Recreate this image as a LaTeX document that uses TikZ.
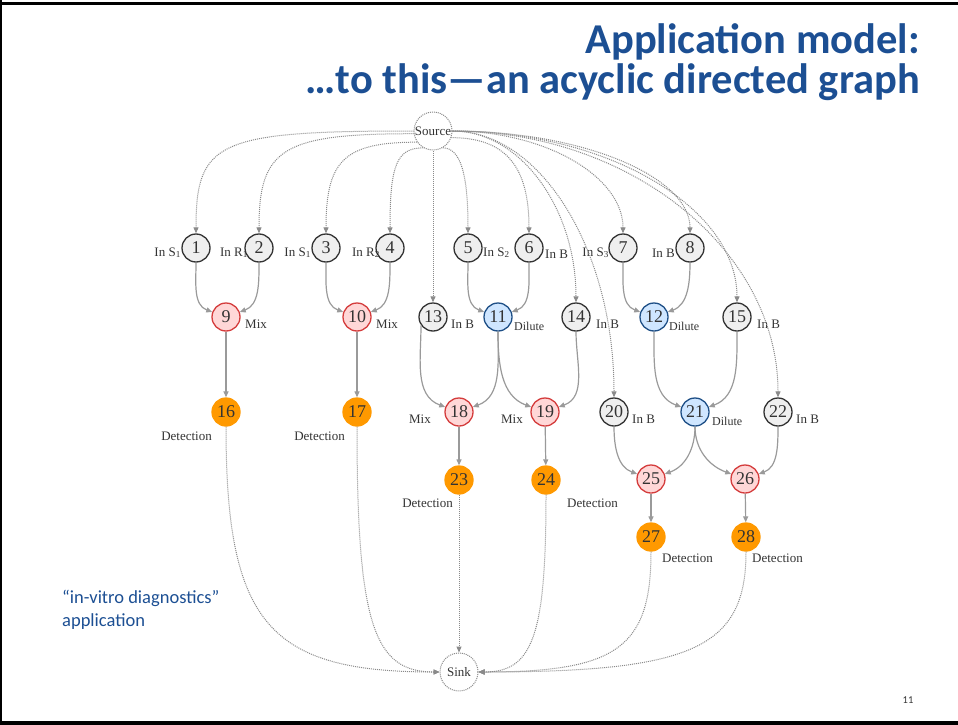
\documentclass[tikz,border=0pt]{standalone}
\usepackage{fontspec}
\setmainfont{Liberation Serif}
\newfontfamily\calfont{Carlito}
\usetikzlibrary{arrows.meta,calc}

\definecolor{titleblue}{HTML}{1C4F93}
\definecolor{edgegray}{HTML}{9A9A9A}
\definecolor{dotgray}{HTML}{8A8A8A}
\definecolor{inkgray}{HTML}{333333}
\definecolor{grayfill}{HTML}{EFEFEF}
\definecolor{pinkfill}{HTML}{FFD7D7}
\definecolor{pinkline}{HTML}{D43C3C}
\definecolor{bluefill}{HTML}{CFE6FF}
\definecolor{blueline}{HTML}{1E4F86}
\definecolor{orangefill}{HTML}{FF9900}

% dotted arc leaving a node sideways and entering the target from above
\newcommand\fromsource[3]{%
  \draw[srcedge] (#1) .. controls ($(#1)!#3!(#2 |- #1)$) and ($(#2)!#3!(#2 |- #1)$) .. (#2);}
% dotted arc leaving a node downwards and entering the target sideways
\newcommand\tosink[3]{%
  \draw[srcedge] (#1) .. controls ($(#1)!#3!(#1 |- #2)$) and ($(#2)!#3!(#1 |- #2)$) .. (#2);}

\tikzset{
  vert/.style={circle,minimum size=28pt,inner sep=0pt,line width=1.3pt,
    text=inkgray,font=\fontsize{18}{18}\selectfont},
  gnode/.style={vert,draw=inkgray,fill=grayfill},
  rnode/.style={vert,draw=pinkline,fill=pinkfill},
  bnode/.style={vert,draw=blueline,fill=bluefill},
  onode/.style={vert,draw=orangefill,fill=orangefill},
  term/.style={circle,minimum size=38pt,inner sep=0pt,draw=dotgray,line width=1pt,
    dash pattern=on 1pt off 1pt,fill=white,text=inkgray,font=\fontsize{13}{13}\selectfont},
  lab/.style={inner sep=0pt,text=inkgray,font=\fontsize{13}{13}\selectfont},
  dil/.style={inner sep=0pt,text=inkgray,font=\fontsize{12}{12}\selectfont},
  edge/.style={draw=edgegray,line width=1.2pt,-{Triangle[length=6pt,width=5pt]}},
  srcedge/.style={draw=dotgray,line width=1pt,dash pattern=on 1pt off 1pt,
    -{Triangle[length=6pt,width=5pt]}},
  titletext/.style={inner sep=0pt,text=titleblue,font=\calfont\bfseries\fontsize{42.5}{42.5}\selectfont},
  notetext/.style={inner sep=0pt,text=titleblue,font=\calfont\fontsize{18.5}{18.5}\selectfont},
}

\begin{document}
\begin{tikzpicture}[x=1pt,y=1pt]
\useasboundingbox (0,0) rectangle (958,-725);

% slide frame
\draw[line width=3.5pt] (0,-3.3) -- (958,-3.3);
\draw[line width=4pt] (0,-723) -- (958,-723);
\draw[line width=1.5pt] (0.75,0) -- (0.75,-725);

% title
\node[titletext,anchor=base east] (title1) at (920,-54) {Application model:};
\node[titletext,anchor=base east] (title2) at (920,-93) {…to this—an acyclic directed graph};

% side note and page number
\node[notetext,anchor=base west] (note1) at (62,-603) {“in-vitro diagnostics”};
\node[notetext,anchor=base west] (note2) at (62,-626) {application};
\node[inner sep=0pt,text=inkgray,font=\calfont\fontsize{10.5}{10.5}\selectfont] (pageno) at (908,-700) {11};

% terminals
\node[term] (src) at (433,-131) {Source};
\node[term] (sink) at (459,-672) {Sink};

% inputs
\node[gnode] (n1) at (196,-248) {1};
\node[gnode] (n2) at (259,-248) {2};
\node[gnode] (n3) at (326,-248) {3};
\node[gnode] (n4) at (390,-248) {4};
\node[gnode] (n5) at (468,-248) {5};
\node[gnode] (n6) at (529,-248) {6};
\node[gnode] (n7) at (623,-248) {7};
\node[gnode] (n8) at (690,-248) {8};

% second row
\node[rnode] (n9) at (226,-317) {9};
\node[rnode] (n10) at (357,-317) {10};
\node[gnode] (n13) at (433,-317) {13};
\node[bnode] (n11) at (498,-317) {11};
\node[gnode] (n14) at (576,-317) {14};
\node[bnode] (n12) at (654,-317) {12};
\node[gnode] (n15) at (737,-317) {15};

% third row
\node[onode] (n16) at (226,-412) {16};
\node[onode] (n17) at (357,-412) {17};
\node[rnode] (n18) at (459,-412) {18};
\node[rnode] (n19) at (545,-412) {19};
\node[gnode] (n20) at (614,-412) {20};
\node[bnode] (n21) at (695,-412) {21};
\node[gnode] (n22) at (778,-412) {22};

% fourth and fifth rows
\node[onode] (n23) at (459,-480) {23};
\node[onode] (n24) at (546,-480) {24};
\node[rnode] (n25) at (651,-479) {25};
\node[rnode] (n26) at (745,-479) {26};
\node[onode] (n27) at (651,-537) {27};
\node[onode] (n28) at (746,-537) {28};

% operation labels
\node[lab,anchor=base east] (l1) at (181,-256) {In S\textsubscript{1}};
\node[lab,anchor=base east] (l2) at (248,-256) {In R\textsubscript{1}};
\node[lab,anchor=base east] (l3) at (311,-256) {In S\textsubscript{1}};
\node[lab,anchor=base east] (l4) at (380,-256) {In R\textsubscript{2}};
\node[lab,anchor=base west] (l5) at (483,-256) {In S\textsubscript{2}};
\node[lab,anchor=base west] (l6) at (545,-258) {In B};
\node[lab,anchor=base east] (l7) at (609,-256) {In S\textsubscript{3}};
\node[lab,anchor=base east] (l8) at (675,-257) {In B};
\node[lab,anchor=base west] (l9) at (245,-328) {Mix};
\node[lab,anchor=base west] (l10) at (376,-328) {Mix};
\node[lab,anchor=base west] (l13) at (451,-328) {In B};
\node[dil,anchor=base west] (l11) at (514,-330) {Dilute};
\node[lab,anchor=base west] (l14) at (596,-328) {In B};
\node[dil,anchor=base west] (l12) at (669,-330) {Dilute};
\node[lab,anchor=base west] (l15) at (757,-328) {In B};
\node[lab,anchor=base east] (l18) at (431,-423) {Mix};
\node[lab,anchor=base east] (l19) at (523,-423) {Mix};
\node[lab,anchor=base west] (l20) at (632,-423) {In B};
\node[dil,anchor=base west] (l21) at (712,-425) {Dilute};
\node[lab,anchor=base west] (l22) at (796,-423) {In B};
\node[lab,anchor=base east] (l16) at (212,-440) {Detection};
\node[lab,anchor=base east] (l17) at (345,-440) {Detection};
\node[lab,anchor=base east] (l23) at (453,-507) {Detection};
\node[lab,anchor=base west] (l24) at (567,-507) {Detection};
\node[lab,anchor=base west] (l27) at (662,-562) {Detection};
\node[lab,anchor=base west] (l28) at (752,-562) {Detection};

% source fan-out
\fromsource{src.west}{n1.north}{0.9}
\fromsource{src.188}{n2.north}{0.85}
\fromsource{src.215}{n3.north}{0.8}
\fromsource{src.240}{n4.north}{0.8}
\draw[srcedge] (src.south) -- (n13.north);
\fromsource{src.300}{n5.north}{0.7}
\fromsource{src.340}{n6.north}{0.7}
\fromsource{src.east}{n14.north}{0.55}
\fromsource{src.east}{n20.north}{0.55}
\fromsource{src.east}{n7.north}{0.55}
\fromsource{src.east}{n8.north}{0.55}
\fromsource{src.east}{n15.north}{0.55}
\fromsource{src.east}{n22.north}{0.55}

% data flow between operations
\draw[edge] (n1) to[out=-90,in=160] (n9);
\draw[edge] (n2) to[out=-90,in=20] (n9);
\draw[edge] (n3) to[out=-90,in=160] (n10);
\draw[edge] (n4) to[out=-90,in=20] (n10);
\draw[edge] (n5) to[out=-90,in=160] (n11);
\draw[edge] (n6) to[out=-90,in=20] (n11);
\draw[edge] (n7) to[out=-90,in=160] (n12);
\draw[edge] (n8) to[out=-90,in=20] (n12);
\draw[edge] (n13.215) to[out=-90,in=160] (n18);
\draw[edge] (n11) to[out=-90,in=20] (n18);
\draw[edge] (n11) to[out=-90,in=160] (n19);
\draw[edge] (n14) to[out=-90,in=20] (n19);
\draw[edge] (n12) to[out=-90,in=160] (n21);
\draw[edge] (n15) to[out=-90,in=20] (n21);
\draw[edge] (n20) to[out=-90,in=160] (n25);
\draw[edge] (n21) to[out=-90,in=20] (n25);
\draw[edge] (n21) to[out=-90,in=160] (n26);
\draw[edge] (n22) to[out=-90,in=20] (n26);
\draw[edge] (n9) -- (n16);
\draw[edge] (n10) -- (n17);
\draw[edge] (n18) -- (n23);
\draw[edge] (n19) -- (n24);
\draw[edge] (n25) -- (n27);
\draw[edge] (n26) -- (n28);

% detections drain into the sink
\tosink{n16.south}{sink.west}{0.8}
\tosink{n17.south}{sink.west}{0.8}
\draw[srcedge] (n23.south) -- (sink.north);
\tosink{n24.south}{sink.east}{0.8}
\tosink{n27.south}{sink.east}{0.8}
\tosink{n28.south}{sink.east}{0.8}
\end{tikzpicture}
\end{document}
